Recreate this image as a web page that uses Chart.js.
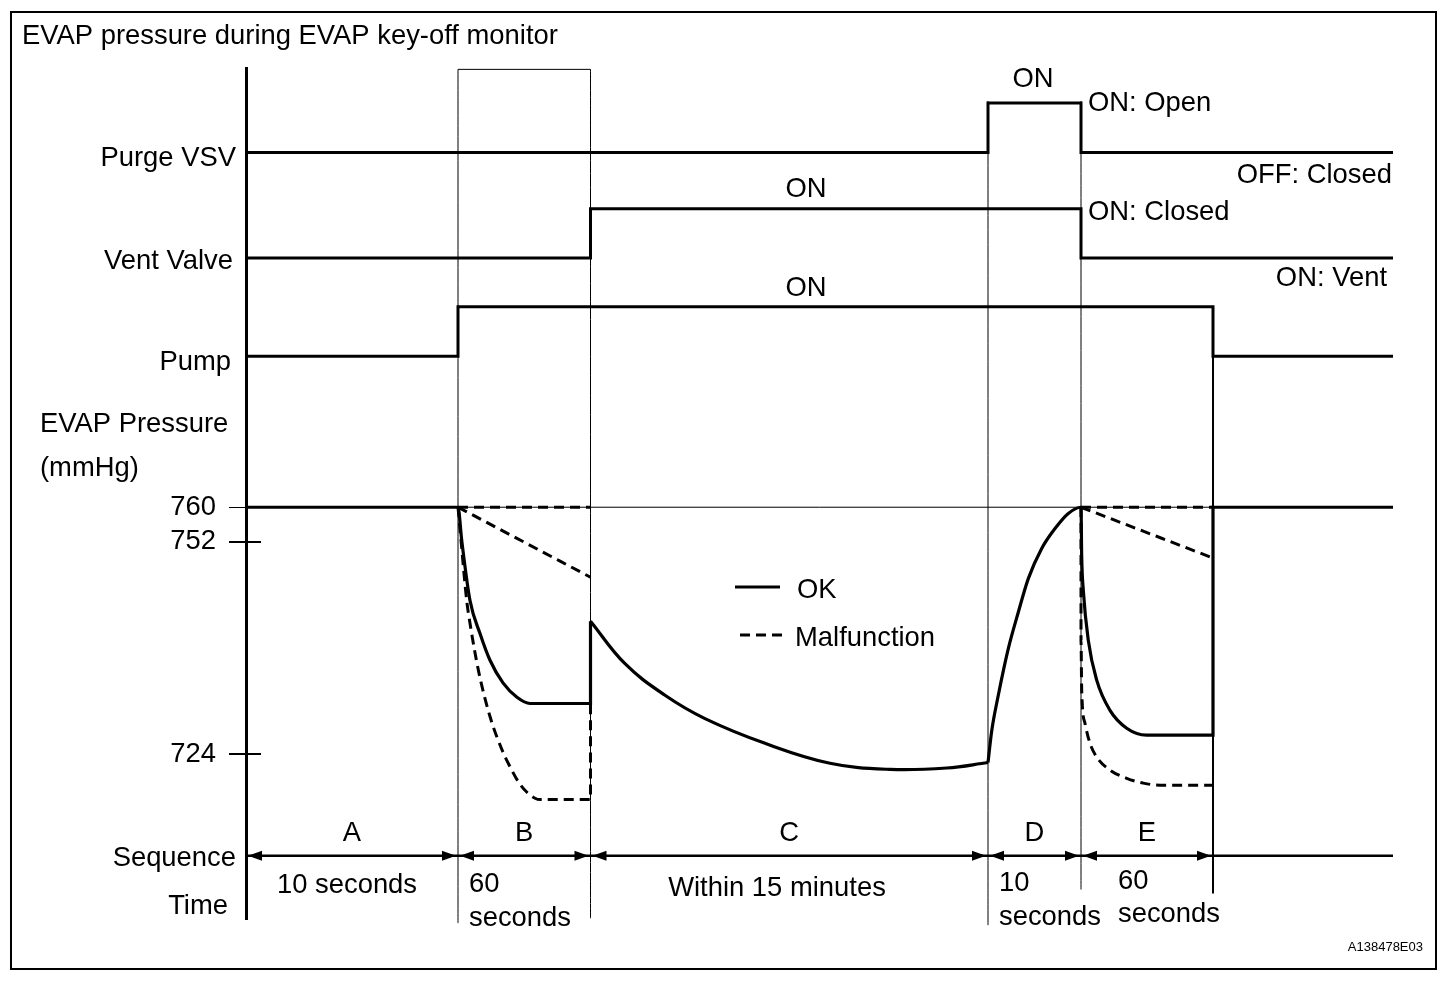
<!DOCTYPE html>
<html>
<head>
<meta charset="utf-8">
<title>EVAP pressure during EVAP key-off monitor</title>
<script src="https://cdn.jsdelivr.net/npm/chart.js@4"></script>
<style>
  html, body { margin: 0; padding: 0; background: #fff; }
  #wrap { width: 1456px; height: 982px; }
</style>
</head>
<body>
<div id="wrap"><canvas id="chart"></canvas></div>
<script>
// x is the position along the diagram (not to scale), y is the diagram level
// (the pressure part is in mmHg, the rows above it are the on/off signals)
const phases = ["A", "B", "C", "D", "E"];
const phaseStart = [0, 21.2, 34.45, 74.2, 83.5];
const phaseEnd = [21.2, 34.45, 74.2, 83.5, 96.7];
const lastX = 114.7;

// on/off rows: x where the state changes and the state from there on
const purgeX = [0, 74.2, 83.5, lastX];
const purgeState = [0, 1, 0, 0];
const ventX = [0, 34.45, 83.5, lastX];
const ventState = [0, 1, 0, 0];
const pumpX = [0, 21.2, 96.7, lastX];
const pumpState = [0, 1, 0, 0];
const rowLevel = { purge: 811.7, vent: 796.3, pump: 782.0 };
const rowStep = 7.2;
const seqLevel = 709.2;

// pressure axis ticks (schematic, 752 is drawn close to 760)
const tickLevels = [760, 755, 724];
const tickLabels = ["760", "752", "724"];

// EVAP pressure, OK: A and B (ends with the jump when the vent valve closes)
const okAbX = [0, 21.2, 21.57, 22.4, 23.4, 24.4, 25.7, 27.1, 28.4, 34.45, 34.45];
const okAbP = [760, 760, 755.2, 746.4, 741.6, 737.7, 734.4, 732.3, 731.4, 731.4, 743.4];
// EVAP pressure, OK: C
const okCX = [34.45, 37.9, 41.9, 45.9, 51.9, 58.4, 64.4, 70.07, 74.2];
const okCP = [743.4, 737.2, 732.6, 729.2, 725.6, 722.7, 721.8, 722.0, 722.8];
// EVAP pressure, OK: D, E and after
const okDeX = [74.2, 74.57, 75.23, 76.23, 77.23, 78.23, 79.57, 80.9, 82.23, 83.5,
  83.57, 83.73, 84.23, 85.07, 86.4, 88.07, 90.07, 96.7, 96.7, lastX];
const okDeP = [722.8, 727.4, 732.6, 739.4, 744.7, 749.6, 754.0, 756.9, 759.1, 760,
  752.8, 747.9, 740.6, 734.8, 730.4, 727.8, 726.8, 726.8, 760, 760];

// EVAP pressure, malfunction (period B)
const mfB1X = [21.2, 21.5, 22.07, 22.4, 23.23, 24.4, 25.73, 26.4, 27.23, 28.07, 28.9, 29.4, 34.45, 34.45];
const mfB1P = [760, 755.2, 746.4, 743.1, 736.3, 729.5, 724.2, 722.2, 720.0, 718.5, 717.6, 717.4, 717.4, 731.4];
const mfB2X = [21.2, 34.45];
const mfB2P = [760, 749.8];
const mfB3X = [21.2, 34.45];
const mfB3P = [760, 760];

// EVAP pressure, malfunction (period E)
const mfE1X = [83.5, 83.5, 83.57, 83.9, 84.4, 85.07, 86.4, 88.07, 89.73, 91.4, 96.7];
const mfE1P = [760, 740.6, 733.3, 728.5, 725.6, 723.6, 721.7, 720.5, 719.8, 719.5, 719.5];
const mfE2X = [83.5, 96.7];
const mfE2P = [760, 752.6];
const mfE3X = [83.5, 96.7];
const mfE3P = [760, 760];

// thin guide lines at the phase changes
const markerX = [21.2, 34.45, 74.2, 83.5, 96.7];
const markerTop = [823.8, 823.8, 819.2, 819.2, 789.2];
const markerBottom = [699.4, 700.1, 699.1, 704.3, 703.7];

const FONT = '"Liberation Sans", Arial, sans-serif';
Chart.defaults.font.family = FONT;
Chart.defaults.color = "#000";

function pts(xs, ys) {
  return xs.map((x, i) => ({ x: x, y: ys[i] }));
}

function line(label, data, extra) {
  return Object.assign({
    label: label,
    data: data,
    borderColor: "#000",
    borderWidth: 3,
    pointRadius: 0,
    fill: false,
    clip: false,
    borderJoinStyle: "miter",
    cubicInterpolationMode: "monotone"
  }, extra || {});
}

const dashed = { borderDash: [10, 6] };
const datasets = [
  line("OK", pts(okAbX, okAbP), { borderWidth: 3.2 }),
  line("Malfunction", pts(mfB1X, mfB1P), dashed),
  line("OK", pts(okCX, okCP), { borderWidth: 3.2, cubicInterpolationMode: "default", tension: 0.4 }),
  line("OK", pts(okDeX, okDeP), { borderWidth: 3.2 }),
  line("Malfunction", pts(mfB2X, mfB2P), dashed),
  line("Malfunction", pts(mfB3X, mfB3P), dashed),
  line("Malfunction", pts(mfE1X, mfE1P), dashed),
  line("Malfunction", pts(mfE2X, mfE2P), dashed),
  line("Malfunction", pts(mfE3X, mfE3P), dashed),
  line("Purge VSV", pts(purgeX, purgeState.map(s => rowLevel.purge + s * rowStep)), { stepped: true }),
  line("Vent Valve", pts(ventX, ventState.map(s => rowLevel.vent + s * rowStep)), { stepped: true }),
  line("Pump", pts(pumpX, pumpState.map(s => rowLevel.pump + s * rowStep)), { stepped: true }),
  line("Sequence", pts([0, lastX], [seqLevel, seqLevel]), { borderWidth: 2.5 }),
  line("760", pts([0, lastX], [760, 760]), { borderWidth: 1 }),
  line("box", pts([markerX[0], markerX[1]], [markerTop[0], markerTop[1]]), { borderWidth: 1 })
];
markerX.forEach((mx, i) => {
  datasets.push(line("marker", pts([mx, mx], [markerTop[i], markerBottom[i]]),
    { borderWidth: i === 4 ? 2 : 1 }));
});

const notes = [
  ["EVAP pressure during EVAP key-off monitor", 22, 44, "left"],
  ["Purge VSV", 236, 166, "right"],
  ["Vent Valve", 233, 269, "right"],
  ["Pump", 231, 370, "right"],
  ["EVAP Pressure", 40, 432, "left"],
  ["(mmHg)", 40, 476, "left"],
  ["Sequence", 236, 866, "right"],
  ["Time", 228, 914, "right"],
  ["ON", 1033, 87, "center"],
  ["ON: Open", 1088, 111, "left"],
  ["OFF: Closed", 1392, 183, "right"],
  ["ON", 806, 197, "center"],
  ["ON: Closed", 1088, 220, "left"],
  ["ON: Vent", 1387, 286, "right"],
  ["ON", 806, 296, "center"],
  ["10 seconds", 347, 893, "center"],
  ["60", 469, 892, "left"],
  ["seconds", 469, 926, "left"],
  ["Within 15 minutes", 777, 896, "center"],
  ["10", 999, 891, "left"],
  ["seconds", 999, 925, "left"],
  ["60", 1118, 889, "left"],
  ["seconds", 1118, 922, "left"]
];

const diagram = {
  id: "diagram",
  beforeDraw(chart) {
    const ctx = chart.ctx;
    ctx.save();
    ctx.fillStyle = "#fff";
    ctx.fillRect(0, 0, chart.width, chart.height);
    ctx.restore();
  },
  afterDraw(chart) {
    const ctx = chart.ctx;
    const xs = chart.scales.x, ys = chart.scales.y;
    const left = chart.chartArea.left;
    ctx.save();
    ctx.strokeStyle = "#000";
    ctx.fillStyle = "#000";

    // frame
    ctx.lineWidth = 2;
    ctx.strokeRect(11, 12, 1425, 957);

    // inner half of the pressure ticks
    tickLevels.forEach(v => {
      if (v === 760) return;
      const py = Math.round(ys.getPixelForValue(v));
      ctx.beginPath();
      ctx.moveTo(left, py);
      ctx.lineTo(left + 15, py);
      ctx.stroke();
    });

    // arrow heads of the sequence row
    const sy = ys.getPixelForValue(seqLevel);
    function head(tip, dir) {
      ctx.beginPath();
      ctx.moveTo(tip, sy);
      ctx.lineTo(tip + dir * 14, sy - 5);
      ctx.lineTo(tip + dir * 14, sy + 5);
      ctx.closePath();
      ctx.fill();
    }
    phases.forEach((p, i) => {
      head(xs.getPixelForValue(phaseStart[i]) + 2, 1);
      head(xs.getPixelForValue(phaseEnd[i]) - 2, -1);
    });

    ctx.font = "27.4px " + FONT;
    ctx.textBaseline = "alphabetic";
    ctx.textAlign = "center";
    phases.forEach((p, i) => {
      const mid = xs.getPixelForValue((phaseStart[i] + phaseEnd[i]) / 2);
      ctx.fillText(p, mid, 841);
    });
    notes.forEach(n => {
      ctx.textAlign = n[3];
      ctx.fillText(n[0], n[1], n[2]);
    });

    // legend
    const ok = chart.data.datasets[0], mf = chart.data.datasets[1];
    ctx.lineWidth = ok.borderWidth;
    ctx.beginPath();
    ctx.moveTo(735, 587);
    ctx.lineTo(780, 587);
    ctx.stroke();
    ctx.lineWidth = mf.borderWidth;
    ctx.setLineDash(mf.borderDash);
    ctx.beginPath();
    ctx.moveTo(740, 635);
    ctx.lineTo(782, 635);
    ctx.stroke();
    ctx.setLineDash([]);
    ctx.textAlign = "left";
    ctx.fillText(ok.label, 797, 598);
    ctx.fillText(mf.label, 795, 646);

    ctx.font = "13px " + FONT;
    ctx.textAlign = "right";
    ctx.fillText("A138478E03", 1423, 951);
    ctx.restore();
  }
};

new Chart(document.getElementById("chart"), {
  type: "line",
  data: { datasets: datasets },
  options: {
    responsive: true,
    maintainAspectRatio: false,
    animation: false,
    events: [],
    layout: { padding: { left: 0, right: 60, top: 68, bottom: 63 } },
    plugins: {
      legend: { display: false },
      tooltip: { enabled: false }
    },
    scales: {
      x: { type: "linear", min: 0, max: 115, display: false },
      y: {
        type: "linear",
        min: 700,
        max: 824,
        afterFit: scale => { scale.width = 246; },
        afterBuildTicks: scale => {
          scale.ticks = tickLevels.map(v => ({ value: v }));
        },
        ticks: {
          autoSkip: false,
          padding: 13,
          color: "#000",
          font: { size: 27.4 },
          callback: (v, i) => tickLabels[i]
        },
        grid: {
          drawOnChartArea: false,
          tickLength: 17,
          color: "#000",
          lineWidth: ctx => (ctx.tick && ctx.tick.value === 760 ? 1 : 2)
        },
        border: { color: "#000", width: 3 }
      }
    }
  },
  plugins: [diagram]
});
</script>
</body>
</html>
